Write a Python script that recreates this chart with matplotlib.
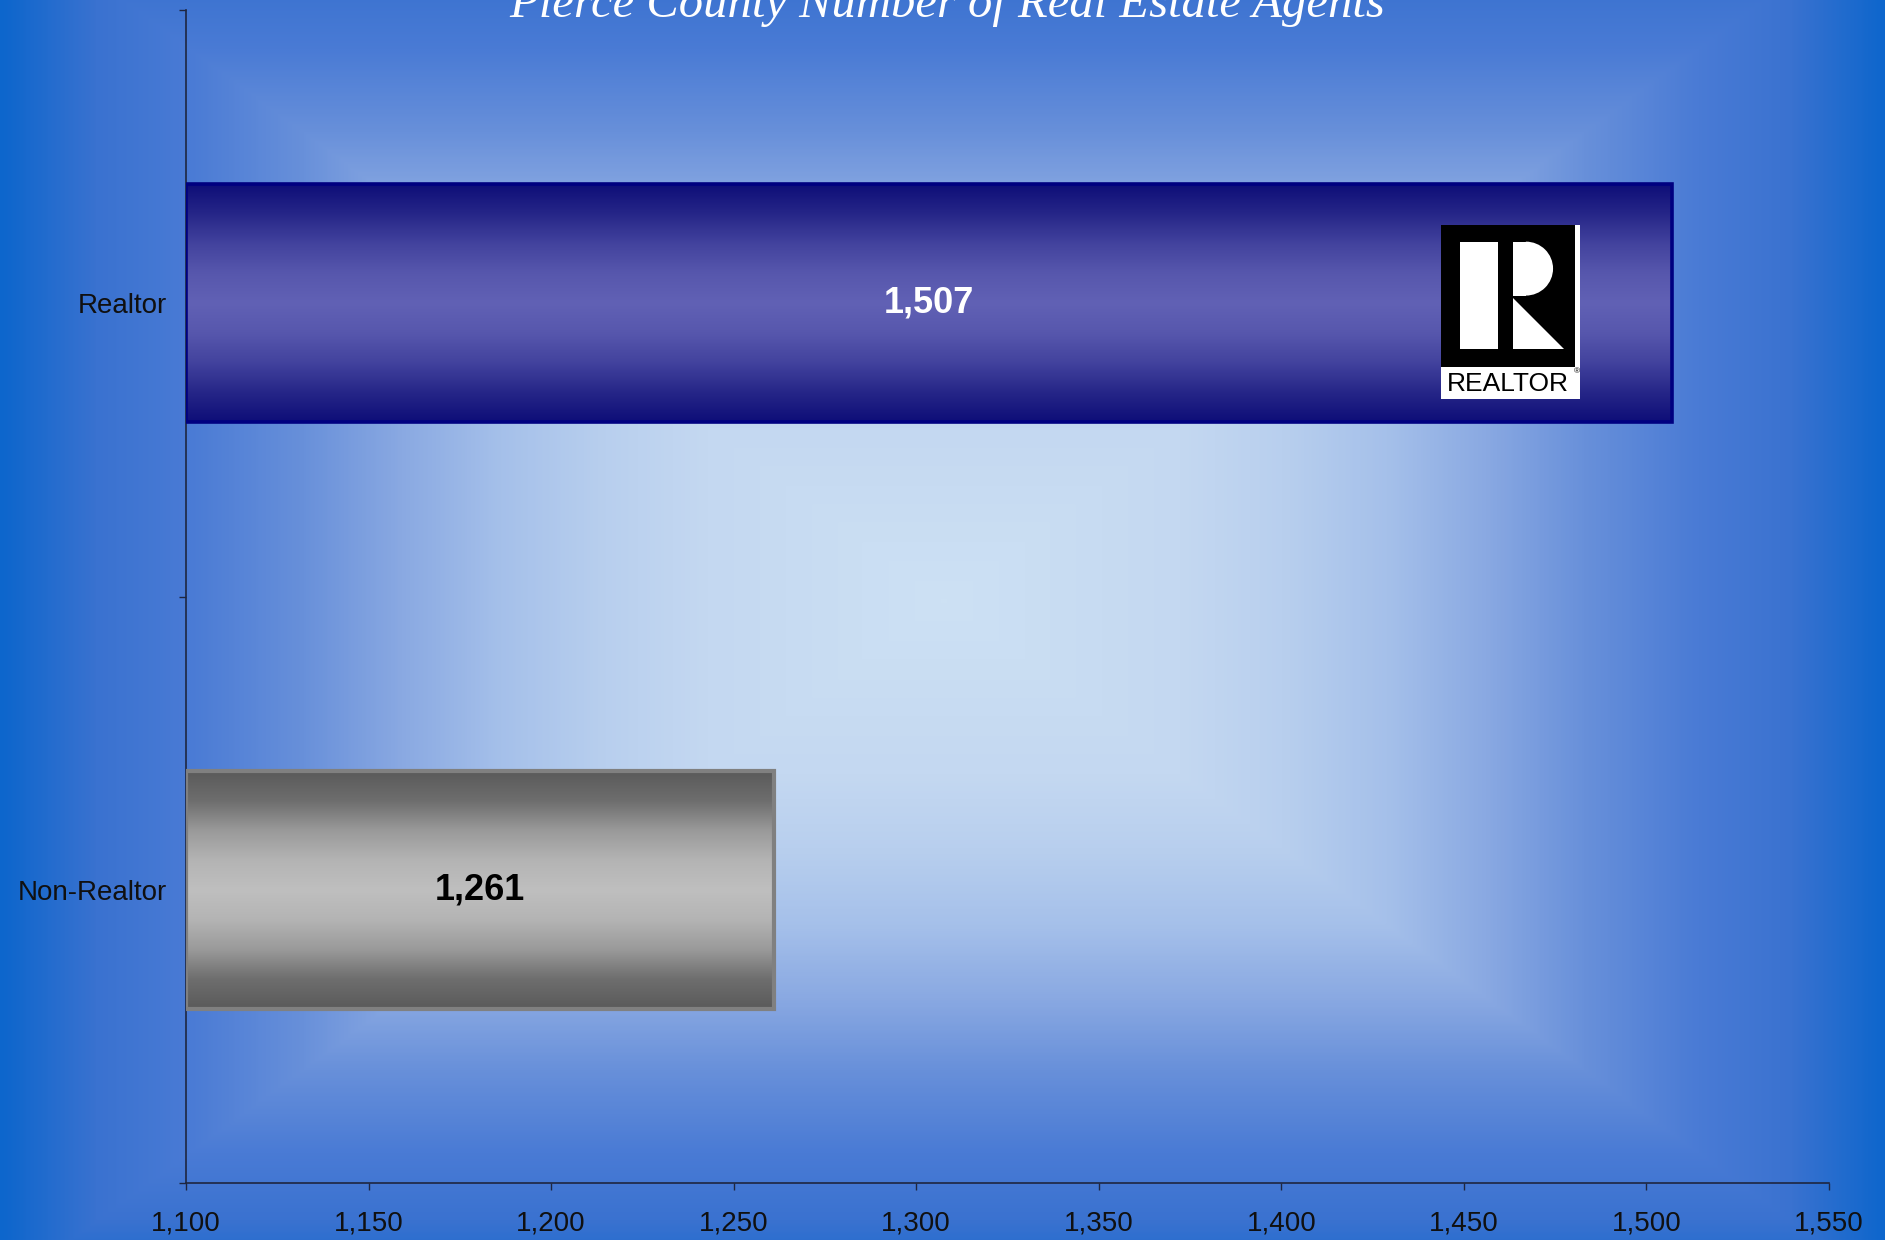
import numpy as np
import matplotlib
matplotlib.use("Agg")
from matplotlib import pyplot as plt
from matplotlib.colors import LinearSegmentedColormap
from matplotlib.patches import Rectangle, Wedge, Polygon
from matplotlib.ticker import FuncFormatter, FixedLocator

title = "Pierce County Number of Real Estate Agents"
categories = ["Realtor", "Non-Realtor"]
agents = [1507, 1261]
x_ticks = [1100, 1150, 1200, 1250, 1300, 1350, 1400, 1450, 1500, 1550]

bar_edges = ["#000080", "#808080"]
label_colors = ["white", "black"]

plt.rcParams["font.family"] = ["Liberation Sans", "DejaVu Sans"]

fig = plt.figure(figsize=(18.85, 12.4), dpi=100)

# fondo con degradado rectangular desde el centro
bg_cmap = LinearSegmentedColormap.from_list(
    "bg",
    [(0.0, "#cde1f4"), (0.25, "#c4d8f1"), (0.36, "#b8cfee"), (0.47, "#a5c0ea"),
     (0.575, "#8aa9e2"), (0.68, "#6890da"), (0.8, "#4a7bd5"), (0.9, "#3a72d0"),
     (1.0, "#0d66cc")],
)
bg = fig.add_axes([0, 0, 1, 1], zorder=-10)
bg.axis("off")
H, W = 620, 943
yy, xx = np.mgrid[0:H, 0:W]
t = np.maximum(np.abs(xx - W / 2) / (W / 2), np.abs(yy - 300) / 345)
bg.imshow(np.clip(t, 0, 1), cmap=bg_cmap, vmin=0, vmax=1, aspect="auto",
          extent=[0, 1, 0, 1], interpolation="bilinear")
bg.set_xlim(0, 1)
bg.set_ylim(0, 1)

ax = fig.add_axes([186 / 1885, 1 - 1183 / 1240, 1643 / 1885, 1173 / 1240])
ax.patch.set_alpha(0)

ypos = np.arange(len(categories))
bars = ax.barh(ypos, [v - x_ticks[0] for v in agents], left=x_ticks[0], height=0.405,
               facecolor="none", edgecolor=bar_edges, zorder=3)
bars[0].set_linewidth(2.6)
bars[1].set_linewidth(3.0)

bar_cmaps = [
    LinearSegmentedColormap.from_list(
        "blue", [(0, "#0e0e78"), (0.25, "#262688"), (0.5, "#43439e"), (0.75, "#5757ad"), (1, "#6161b5")]),
    LinearSegmentedColormap.from_list(
        "gray", [(0, "#5a5a5a"), (0.25, "#6e6e6e"), (0.5, "#9a9a9a"), (0.75, "#b4b4b4"), (1, "#bfbfbf")]),
]
grad = (1 - np.abs(np.linspace(-1, 1, 256)))[:, None]
for rect, cmap in zip(bars, bar_cmaps):
    x0, y0 = rect.get_x(), rect.get_y()
    im = ax.imshow(grad, cmap=cmap, vmin=0, vmax=1, aspect="auto", zorder=2,
                   extent=[x0, x0 + rect.get_width(), y0 + rect.get_height(), y0],
                   interpolation="bilinear")
    im.set_clip_path(rect)

for y, v, c in zip(ypos, agents, label_colors):
    ax.text((x_ticks[0] + v) / 2, y, f"{v:,}", ha="center", va="center",
            fontsize=26, fontweight="bold", color=c, zorder=5)

ax.set_xlim(x_ticks[0], x_ticks[-1])
ax.set_ylim(len(categories) - 0.5, -0.5)
ax.set_xticks(x_ticks)
ax.xaxis.set_major_formatter(FuncFormatter(lambda v, p: f"{int(v):,}"))
ax.set_yticks(ypos)
ax.set_yticklabels(categories)
ax.yaxis.set_minor_locator(FixedLocator(np.arange(len(categories) + 1) - 0.5))

for s in ["top", "right"]:
    ax.spines[s].set_visible(False)
for s in ["left", "bottom"]:
    ax.spines[s].set_color("#1e2640")
    ax.spines[s].set_linewidth(1.2)

ax.tick_params(axis="x", direction="out", length=5, width=1, color="#1e2640",
               labelsize=20, pad=15, labelcolor="#101010")
ax.tick_params(axis="y", which="major", length=0, pad=14, labelsize=20,
               labelcolor="#101010")
ax.tick_params(axis="y", which="minor", direction="out", length=5, width=1,
               color="#1e2640")

# logo REALTOR
logo = ax.inset_axes([0.764, 0.668, 0.0846, 0.149], zorder=6)
logo.set_xlim(0, 138)
logo.set_ylim(175, 0)
logo.axis("off")
logo.add_patch(Rectangle((0, 0), 138, 175, facecolor="white", edgecolor="none"))
logo.add_patch(Rectangle((0, 0), 133, 143, facecolor="black", edgecolor="none"))
logo.add_patch(Rectangle((19, 17), 37, 108, facecolor="white", edgecolor="none"))
logo.add_patch(Rectangle((71, 17), 13, 54, facecolor="white", edgecolor="none"))
logo.add_patch(Wedge((84, 44), 27, -90, 90, facecolor="white", edgecolor="none"))
logo.add_patch(Polygon([(71, 73), (71, 125), (122, 125)], closed=True,
                       facecolor="white", edgecolor="none"))
logo.text(66, 160, "REALTOR", ha="center", va="center", fontsize=19, color="black")
logo.text(135, 147, "®", ha="center", va="center", fontsize=6, color="black")

fig.text(0.5025, 1 - 17 / 1240, title, ha="center", va="baseline", fontsize=35,
         style="italic", family="Liberation Serif", color="white")

fig.savefig("out.png", dpi=100)
